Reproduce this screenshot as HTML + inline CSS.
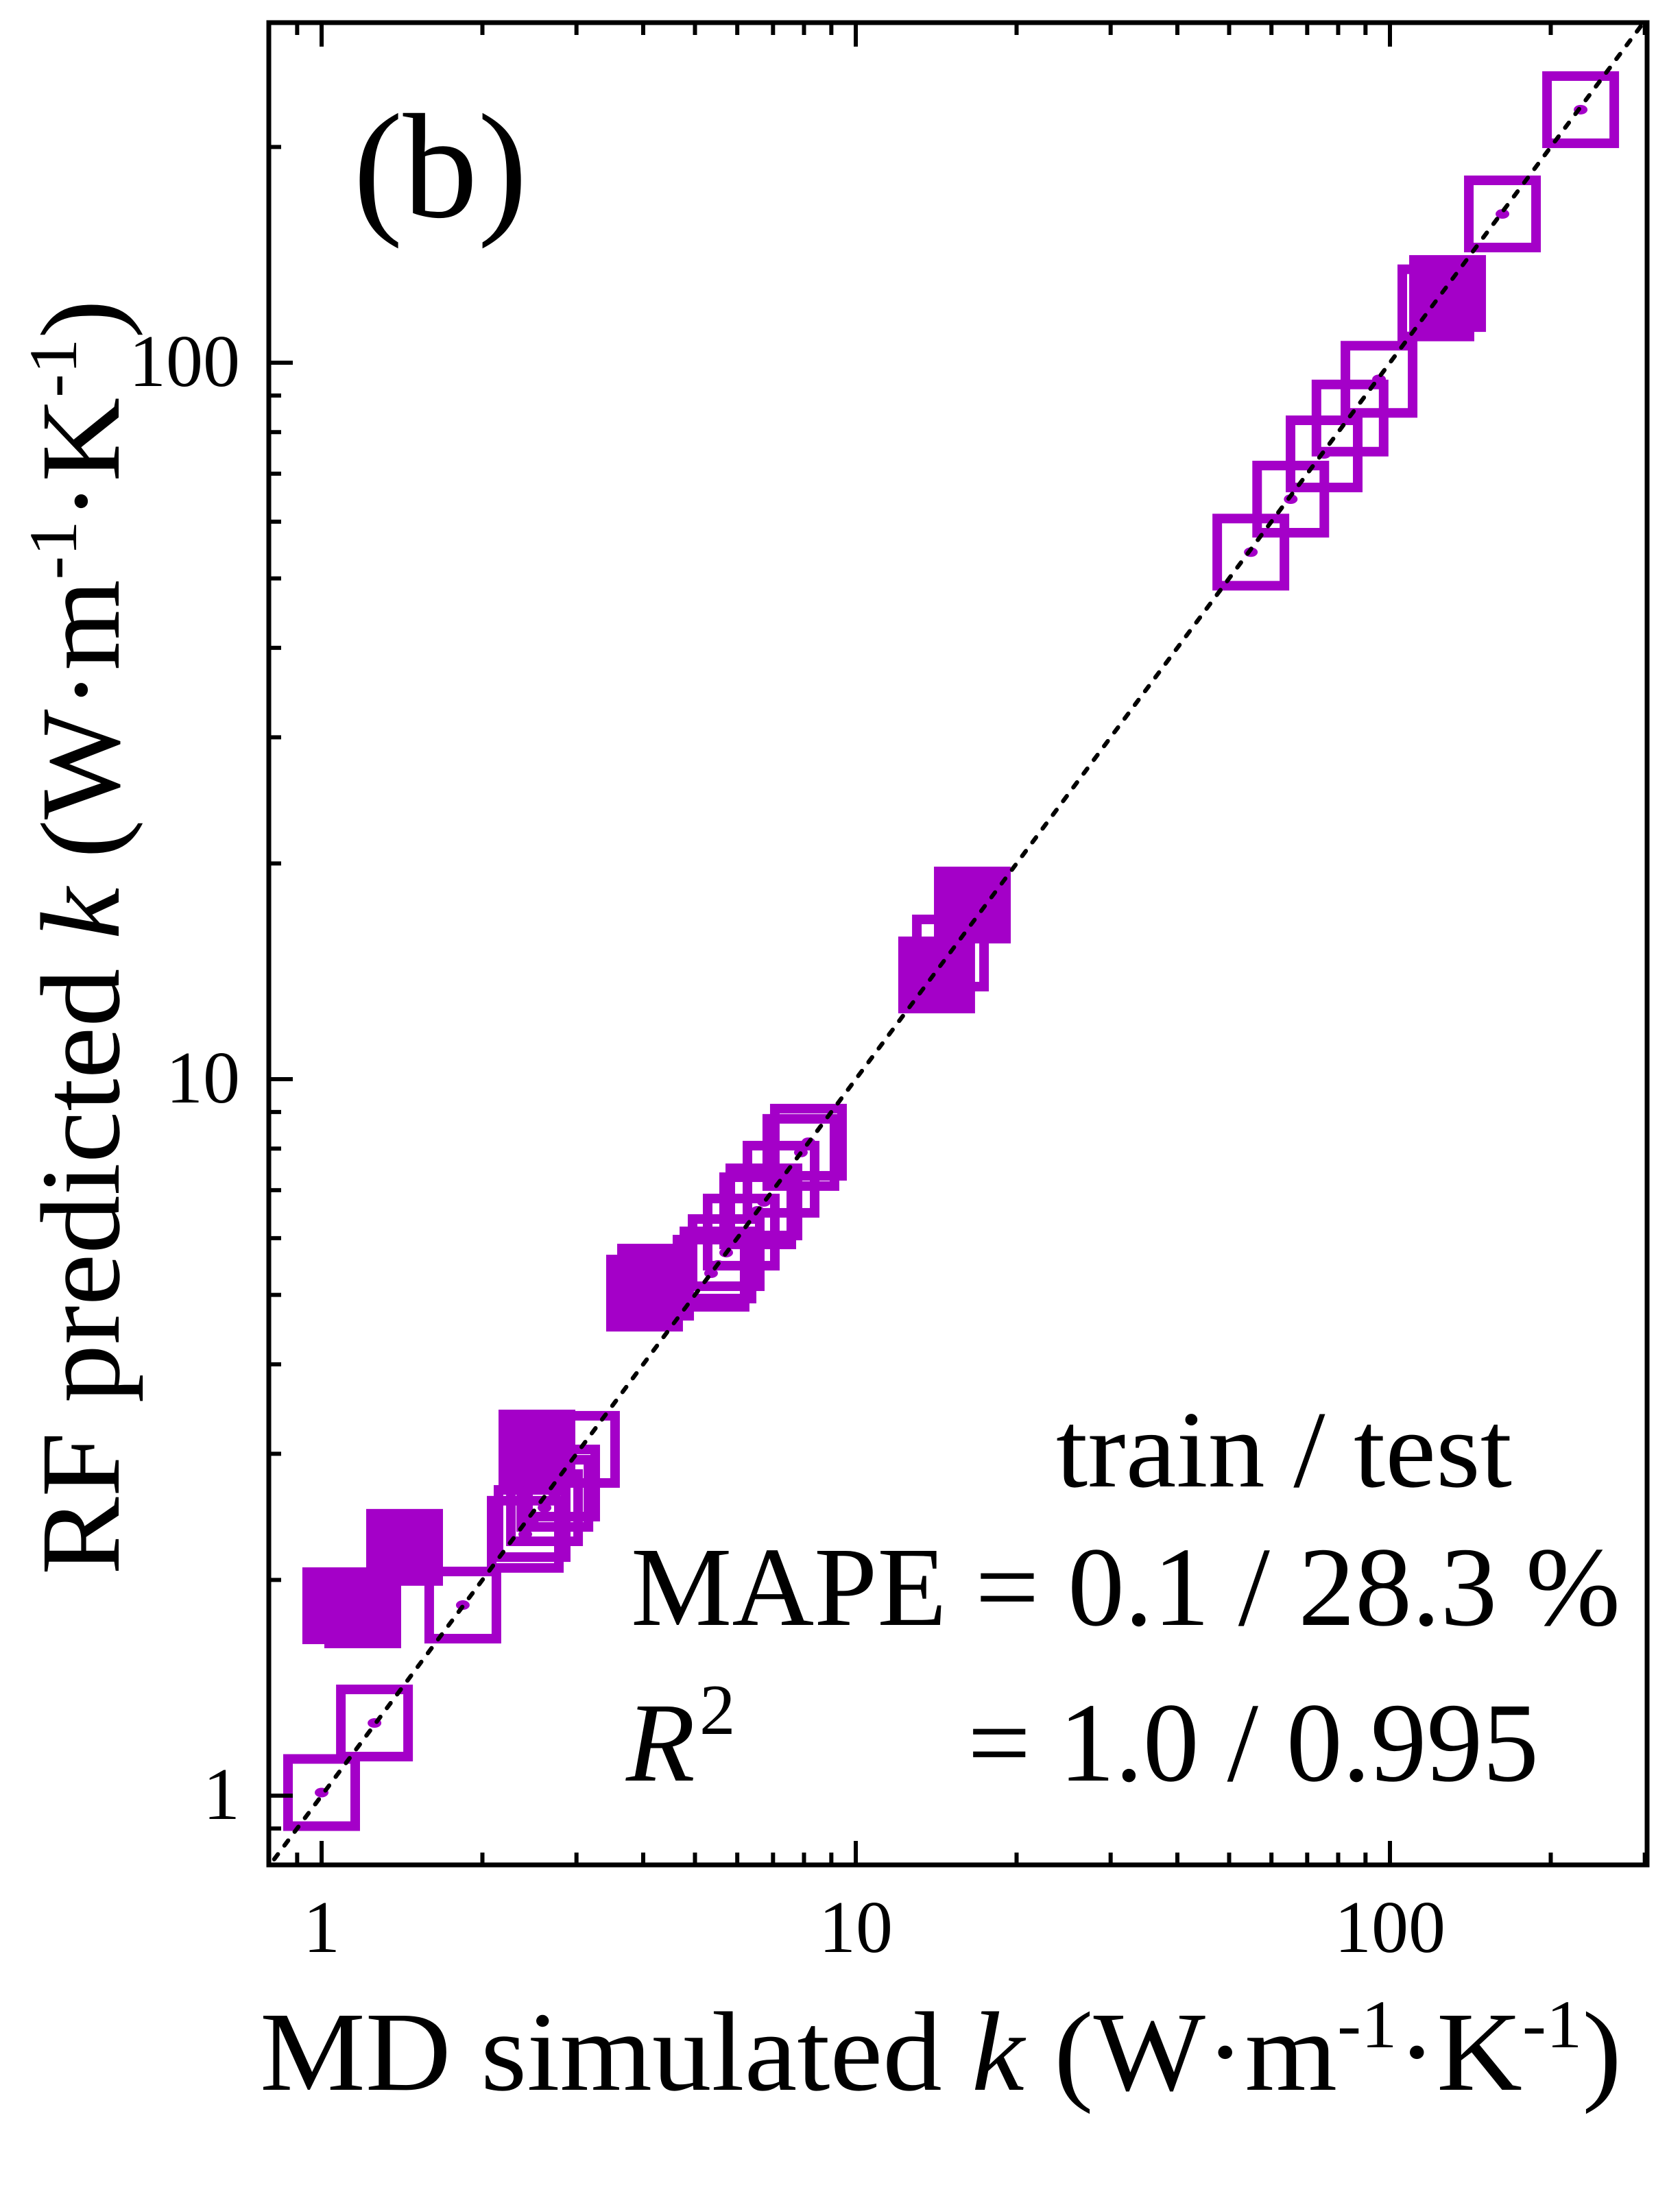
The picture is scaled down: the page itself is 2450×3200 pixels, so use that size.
<!DOCTYPE html>
<html><head><meta charset="utf-8"><style>
html,body{margin:0;padding:0;background:#fff;}
svg{display:block;font-family:"Liberation Serif","Times New Roman",serif;}
</style></head><body>
<svg id="chart" width="2450" height="3200" viewBox="0 0 2450 3200" xmlns="http://www.w3.org/2000/svg">
<rect x="0" y="0" width="2450" height="3200" fill="#fff"/>
<defs><clipPath id="plotclip"><rect x="392" y="33" width="2010" height="2687"/></clipPath></defs>
<g id="marks" clip-path="url(#plotclip)"></g>
<g id="axes"></g>
<text x="515" y="316" font-size="218">(b)</text>
<text x="379" y="3048" font-size="165" textLength="1986" lengthAdjust="spacingAndGlyphs">MD simulated <tspan font-style="italic">k</tspan> (W·m<tspan dy="-62" font-size="100">-1</tspan><tspan dy="62">·K</tspan><tspan dy="-62" font-size="100">-1</tspan><tspan dy="62">)</tspan></text>
<text transform="translate(173,2297) rotate(-90)" x="0" y="0" font-size="165" textLength="1860" lengthAdjust="spacingAndGlyphs">RF predicted <tspan font-style="italic">k</tspan> (W·m<tspan dy="-62" font-size="100">-1</tspan><tspan dy="62">·K</tspan><tspan dy="-62" font-size="100">-1</tspan><tspan dy="62">)</tspan></text>
<text x="1540" y="2168" font-size="160" textLength="665" lengthAdjust="spacingAndGlyphs">train / test</text>
<text x="920" y="2370" font-size="165" textLength="1443" lengthAdjust="spacingAndGlyphs">MAPE = 0.1 / 28.3 %</text>
<text x="913" y="2597" font-size="165" font-style="italic">R</text>
<text x="1020" y="2529" font-size="105">2</text>
<text x="1411" y="2597" font-size="165" textLength="833" lengthAdjust="spacingAndGlyphs">= 1.0 / 0.995</text>
</svg>
<script>
// Data: MD simulated k (x) vs RF predicted k (y)
const testX = [1.00,1.256,1.838,2.406,2.478,2.614,2.733,2.814,3.065,5.521,5.359,5.72,6.104,6.553,6.73,7.246,7.893,8.154,15.04,54.9,65.2,75.3,84.2,95.4,121.9,162.4,227.5];
const testY = [1.01,1.263,1.845,2.316,2.398,2.523,2.642,2.731,3.043,5.504,5.360,5.727,6.117,6.551,6.741,7.25,7.902,8.166,15.0,54.4,64.5,74.6,83.7,94.8,121.2,161.3,225.5];
const trainX = [1.086,1.194,1.43,2.53,4.023,4.219,14.17,16.53,128.2];
const trainY = [1.841,1.817,2.221,3.056,5.028,5.208,13.98,17.5,124.9];
const majorTicks = [1,10,100];
const tickLabels = ["1","10","100"];
const minorTicks = [0.8,0.9,2,3,4,5,6,7,8,9,20,30,40,50,60,70,80,90,200,300];

const NS = "http://www.w3.org/2000/svg";
const X0 = 469, XD = 779, Y0 = 2619, YD = 1045;
const L = 392, R = 2402, T = 33, B = 2720;
function sx(v){ return X0 + XD*Math.log10(v); }
function sy(v){ return Y0 - YD*Math.log10(v); }
function mk(tag, attrs, parent){
  const e = document.createElementNS(NS, tag);
  for (const k in attrs) e.setAttribute(k, attrs[k]);
  parent.appendChild(e); return e;
}
const marks = document.getElementById('marks');
const axes = document.getElementById('axes');
const PURPLE = "#A400C8";

// diagonal parity line
const diag = mk('line', {x1: sx(0.78), y1: sy(0.78), x2: sx(310), y2: sy(310), stroke:'#000', 'stroke-width':6, 'stroke-dasharray':'9 16', 'stroke-linecap':'round'}, marks);



// test (open) squares
for (let i = 0; i < testX.length; i++) {
  const cx = sx(testX[i]), cy = sy(testY[i]);
  const r = mk('rect', {x: cx-49, y: cy-49, width: 98, height: 98, fill:'none', stroke: PURPLE, 'stroke-width': 14}, marks);
  
  
  const d = mk('ellipse', {cx: cx, cy: cy, rx: 10, ry: 7, fill: PURPLE}, marks);
  
  
}
// redraw dashed line segments over open squares (line appears on top)
const diag2 = diag.cloneNode();
marks.appendChild(diag2);
// train (filled) squares
for (let i = 0; i < trainX.length; i++) {
  const cx = sx(trainX[i]), cy = sy(trainY[i]);
  const r = mk('rect', {x: cx-56, y: cy-56, width: 112, height: 112, fill: PURPLE}, marks);
  
  
}
const diag3 = diag.cloneNode();
marks.appendChild(diag3);

// frame
const frame = mk('rect', {x: L, y: T, width: R-L, height: B-T, fill:'none', stroke:'#000', 'stroke-width':7}, axes);



function tick(x1,y1,x2,y2,name){
  const t = mk('line', {x1:x1,y1:y1,x2:x2,y2:y2,stroke:'#000','stroke-width':6}, axes);
  
  
}
majorTicks.forEach((v,i) => {
  const x = sx(v), y = sy(v);
  tick(x, B, x, B-35, 'x-major-tick');
  tick(x, T, x, T+35, 'x-major-tick-top');
  tick(L, y, L+35, y, 'y-major-tick');
  const xl = mk('text', {x: x, y: 2847, 'font-size': 108, 'text-anchor':'middle'}, axes);
  xl.textContent = tickLabels[i];
  
  
  const yl = mk('text', {x: 350, y: y+34, 'font-size': 108, 'text-anchor':'end'}, axes);
  yl.textContent = tickLabels[i];
  
  
});
minorTicks.forEach(v => {
  const x = sx(v), y = sy(v);
  if (x > L+3 && x < R-3) {
    tick(x, B, x, B-18, 'x-minor-tick');
    tick(x, T, x, T+18, 'x-minor-tick-top');
  }
  if (y > T+3 && y < B-3) tick(L, y, L+18, y, 'y-minor-tick');
});
</script>
</body></html>
